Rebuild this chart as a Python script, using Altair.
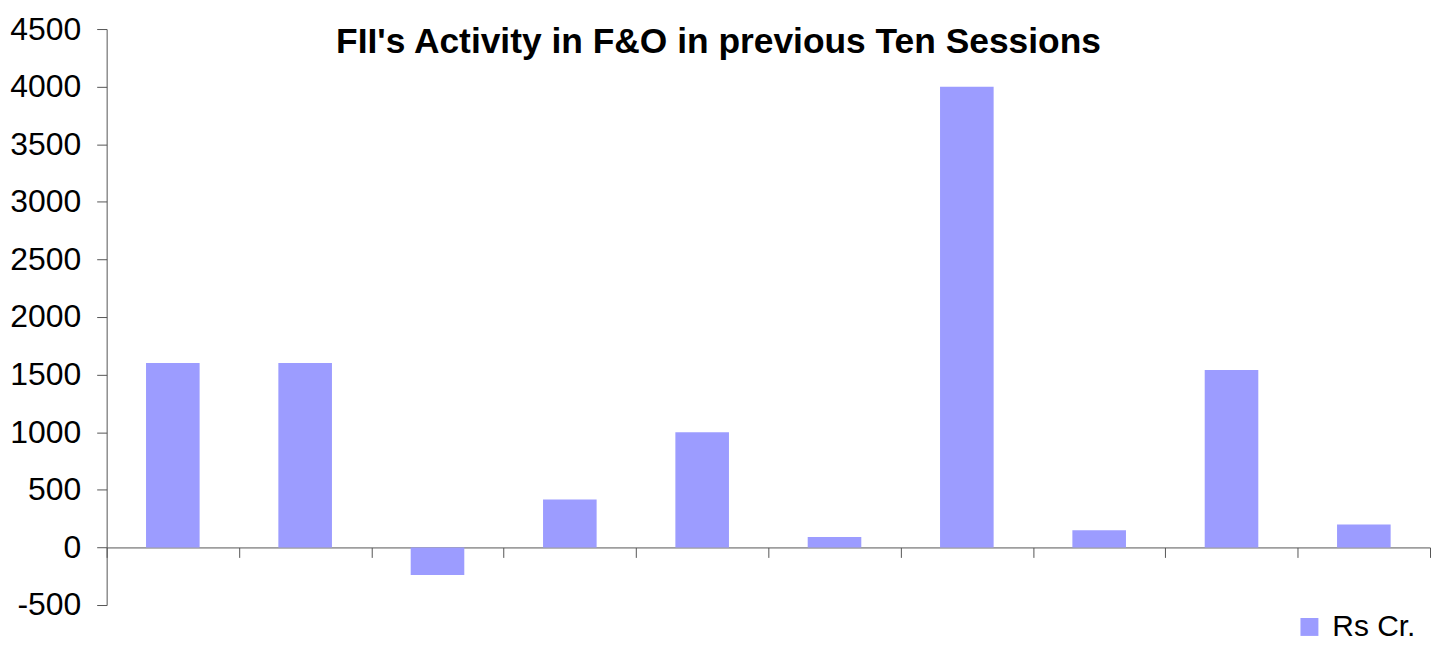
import altair as alt
import pandas as pd

# ---- data ----
SESSIONS = [f"Session {i}" for i in range(1, 11)]
VALUES = [1600, 1600, -240, 415, 1000, 90, 4000, 150, 1540, 200]
SERIES = "Rs Cr."
Y_TICKS = [-500, 0, 500, 1000, 1500, 2000, 2500, 3000, 3500, 4000, 4500]
TITLE = "FII's Activity in F&O in previous Ten Sessions"

df = pd.DataFrame({"session": SESSIONS, "value": VALUES, "series": [SERIES] * len(SESSIONS)})

W, H = 1328, 578
YMIN, YMAX = -500, 4500
FONT = "Liberation Sans"
AXIS_COLOR = "#555555"

bars = alt.Chart(df).mark_bar(width=alt.RelativeBandSize(0.405)).encode(
    x=alt.X(
        "session:N",
        sort=SESSIONS,
        scale=alt.Scale(paddingInner=0, paddingOuter=0),
        axis=alt.Axis(
            title=None, labels=False, tickBand="extent", ticks=True, tickSize=10,
            domainColor=AXIS_COLOR, tickColor=AXIS_COLOR, grid=False,
            offset=-H * (0 - YMIN) / (YMAX - YMIN),
        ),
    ),
    y=alt.Y(
        "value:Q",
        scale=alt.Scale(domain=[YMIN, YMAX], nice=False, zero=False),
        axis=alt.Axis(
            title=None, values=Y_TICKS, grid=False, tickSize=10, labelPadding=16,
            labelFontSize=32, labelFont=FONT, labelColor="black",
            labelExpr="'' + datum.value",
            domainColor=AXIS_COLOR, tickColor=AXIS_COLOR,
        ),
    ),
    color=alt.Color(
        "series:N",
        scale=alt.Scale(domain=[SERIES], range=["#9C9CFF"]),
        legend=alt.Legend(
            title=None, orient="none", legendX=1192, legendY=585,
            symbolType="square", symbolSize=324, symbolStrokeWidth=0, symbolOpacity=1,
            labelFontSize=30, labelFont=FONT, labelColor="black", labelOffset=8,
        ),
    ),
)

title_layer = alt.Chart(pd.DataFrame({"t": [TITLE]})).mark_text(
    font=FONT, fontSize=35.5, fontWeight="bold", align="center", baseline="alphabetic", color="black"
).encode(text="t:N", x=alt.value(614), y=alt.value(24))

chart = alt.layer(bars, title_layer).properties(
    width=W, height=H,
    autosize=alt.AutoSizeParams(type="none"),
    padding={"left": 99, "top": 20, "right": 4, "bottom": 39},
).configure_view(stroke=None)

chart.save("out.html", embed_options={"renderer": "svg", "actions": False})
